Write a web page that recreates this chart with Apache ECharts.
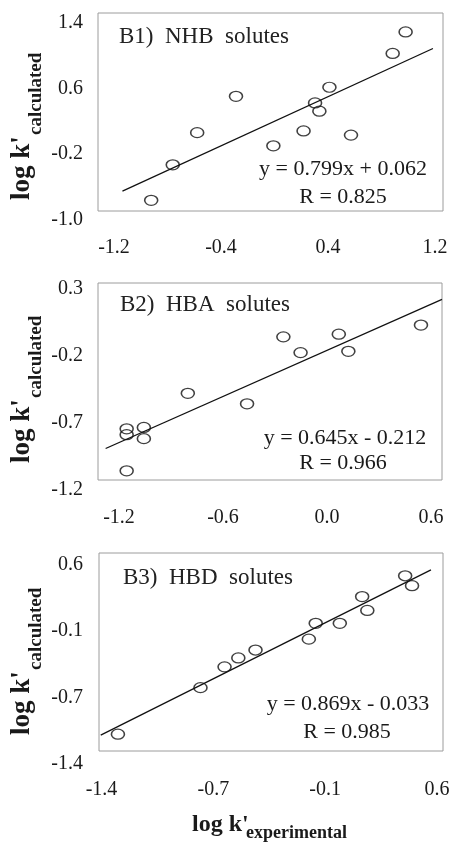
<!DOCTYPE html>
<html>
<head>
<meta charset="utf-8">
<script src="https://cdn.jsdelivr.net/npm/echarts@6/dist/echarts.min.js"></script>
<style>
  html, body { margin: 0; padding: 0; background: #fff; }
  #main { width: 461px; height: 846px; }
</style>
</head>
<body>
<div id="main"></div>
<script>
// B1) NHB solutes
var nhbX = [-0.83, -0.68, -0.51, -0.24, 0.02, 0.23, 0.31, 0.34, 0.41, 0.56, 0.85, 0.94];
var nhbY = [-0.87, -0.44, -0.05, 0.39, -0.21, -0.03, 0.31, 0.21, 0.50, -0.08, 0.91, 1.17];
var nhbFit = [[-1.03, -0.76], [1.13, 0.97]];
var nhbXLabels = ['-1.2', '-0.4', '0.4', '1.2'];
var nhbYLabels = ['-1.0', '-0.2', '0.6', '1.4'];

// B2) HBA solutes
var hbaX = [-1.05, -1.05, -1.05, -0.96, -0.96, -0.73, -0.42, -0.23, -0.14, 0.06, 0.11, 0.49];
var hbaY = [-1.13, -0.81, -0.855, -0.80, -0.885, -0.54, -0.62, -0.11, -0.23, -0.09, -0.22, -0.02];
var hbaFit = [[-1.16, -0.96], [0.60, 0.175]];
var hbaXLabels = ['-1.2', '-0.6', '0.0', '0.6'];
var hbaYLabels = ['-1.2', '-0.7', '-0.2', '0.3'];

// B3) HBD solutes
var hbdX = [-1.29, -0.81, -0.67, -0.59, -0.49, -0.18, -0.14, 0.00, 0.13, 0.16, 0.38, 0.42];
var hbdY = [-1.23, -0.76, -0.55, -0.46, -0.38, -0.27, -0.11, -0.11, 0.16, 0.02, 0.37, 0.27];
var hbdFit = [[-1.39, -1.24], [0.53, 0.43]];
var hbdXLabels = ['-1.4', '-0.7', '-0.1', '0.6'];
var hbdYLabels = ['-1.4', '-0.7', '-0.1', '0.6'];

var panelTitles = ['B1)  NHB  solutes', 'B2)  HBA  solutes', 'B3)  HBD  solutes'];
var equations = ['y = 0.799x + 0.062', 'y = 0.645x - 0.212', 'y = 0.869x - 0.033'];
var rValues = ['R = 0.825', 'R = 0.966', 'R = 0.985'];

var serif = '"Liberation Serif", "Times New Roman", serif';
var ink = '#1a1a1a';
var ring = 'path://M0,5A6.5,5 0 1 1 13,5A6.5,5 0 1 1 0,5Z';

var panels = [
  {
    box: {left: 98, top: 13, width: 345, height: 198},
    lab: {left: 114, top: 22.7, width: 321, height: 197.3, xMargin: 18, yMargin: 31},
    xr: [-1.2, 1.2], yr: [-1.0, 1.4],
    xs: nhbX, ys: nhbY, fit: nhbFit, xl: nhbXLabels, yl: nhbYLabels,
    title: [119, 37], eq: [343, 169], r: [343, 197], ytitle: 200
  },
  {
    box: {left: 98, top: 283, width: 344, height: 197},
    lab: {left: 119, top: 288.6, width: 312, height: 201.6, xMargin: 18, yMargin: 36},
    xr: [-1.2, 0.6], yr: [-1.2, 0.3],
    xs: hbaX, ys: hbaY, fit: hbaFit, xl: hbaXLabels, yl: hbaYLabels,
    title: [120, 305], eq: [345, 438], r: [343, 463], ytitle: 463
  },
  {
    box: {left: 99, top: 553, width: 344, height: 198},
    lab: {left: 101.5, top: 565, width: 335.5, height: 198.5, xMargin: 16.5, yMargin: 18.5},
    xr: [-1.4, 0.6], yr: [-1.4, 0.6],
    xs: hbdX, ys: hbdY, fit: hbdFit, xl: hbdXLabels, yl: hbdYLabels,
    title: [123, 578], eq: [348, 704], r: [347, 732], ytitle: 735
  }
];

var grid = [], xAxis = [], yAxis = [], series = [], graphic = [];

panels.forEach(function (p, i) {
  // plot box, carries the data
  grid.push({
    left: p.box.left, top: p.box.top, width: p.box.width, height: p.box.height,
    show: true, borderColor: '#9c9c9c', borderWidth: 1, backgroundColor: 'transparent'
  });
  xAxis.push({
    type: 'value', gridIndex: 2 * i, min: p.xr[0], max: p.xr[1],
    axisLine: {show: false}, axisTick: {show: false}, axisLabel: {show: false}, splitLine: {show: false}
  });
  yAxis.push({
    type: 'value', gridIndex: 2 * i, min: p.yr[0], max: p.yr[1],
    axisLine: {show: false}, axisTick: {show: false}, axisLabel: {show: false}, splitLine: {show: false}
  });

  // tick labels sit a little off the box in the original, so they get their own grid
  grid.push({left: p.lab.left, top: p.lab.top, width: p.lab.width, height: p.lab.height, show: false});
  xAxis.push({
    type: 'value', gridIndex: 2 * i + 1, min: 0, max: 3, interval: 1,
    axisLine: {show: false}, axisTick: {show: false}, splitLine: {show: false},
    axisLabel: {
      margin: p.lab.xMargin, color: ink, fontFamily: serif, fontSize: 20,
      formatter: (function (labels) { return function (v) { return labels[Math.round(v)]; }; })(p.xl)
    }
  });
  yAxis.push({
    type: 'value', gridIndex: 2 * i + 1, min: 0, max: 3, interval: 1,
    axisLine: {show: false}, axisTick: {show: false}, splitLine: {show: false},
    axisLabel: {
      margin: p.lab.yMargin, color: ink, fontFamily: serif, fontSize: 20,
      formatter: (function (labels) { return function (v) { return labels[Math.round(v)]; }; })(p.yl)
    }
  });

  series.push({
    type: 'line', xAxisIndex: 2 * i, yAxisIndex: 2 * i,
    data: p.fit, symbol: 'none', silent: true,
    lineStyle: {color: '#111', width: 1.3}
  });
  series.push({
    type: 'scatter', xAxisIndex: 2 * i, yAxisIndex: 2 * i,
    data: p.xs.map(function (x, k) { return [x, p.ys[k]]; }),
    symbol: ring, symbolSize: [13, 10], silent: true,
    itemStyle: {color: 'rgba(0,0,0,0)', borderColor: '#111', borderWidth: 1.4}
  });

  graphic.push({
    type: 'text', x: p.title[0], y: p.title[1],
    style: {text: panelTitles[i], fill: '#222', font: '23px ' + serif, align: 'left', verticalAlign: 'middle'}
  });
  graphic.push({
    type: 'text', x: p.eq[0], y: p.eq[1],
    style: {text: equations[i], fill: ink, font: '22px ' + serif, align: 'center', verticalAlign: 'middle'}
  });
  graphic.push({
    type: 'text', x: p.r[0], y: p.r[1],
    style: {text: rValues[i], fill: ink, font: '22px ' + serif, align: 'center', verticalAlign: 'middle'}
  });

  // rotated y title: log k' + subscript
  graphic.push({
    type: 'text', x: 22, y: p.ytitle, rotation: Math.PI / 2,
    style: {text: "log k'", fill: ink, font: 'bold 27px ' + serif, align: 'left', verticalAlign: 'middle'}
  });
  graphic.push({
    type: 'text', x: 36.5, y: p.ytitle - 65, rotation: Math.PI / 2,
    style: {text: 'calculated', fill: ink, font: 'bold 19px ' + serif, align: 'left', verticalAlign: 'middle'}
  });
});

// x title under the last panel
graphic.push({
  type: 'text', x: 192, y: 825,
  style: {text: "log k'", fill: ink, font: 'bold 24px ' + serif, align: 'left', verticalAlign: 'middle'}
});
graphic.push({
  type: 'text', x: 246, y: 833,
  style: {text: 'experimental', fill: ink, font: 'bold 18px ' + serif, align: 'left', verticalAlign: 'middle'}
});

var myChart = echarts.init(document.getElementById('main'));
myChart.setOption({
  animation: false,
  backgroundColor: '#fff',
  grid: grid,
  xAxis: xAxis,
  yAxis: yAxis,
  series: series,
  graphic: graphic
});
</script>
</body>
</html>
